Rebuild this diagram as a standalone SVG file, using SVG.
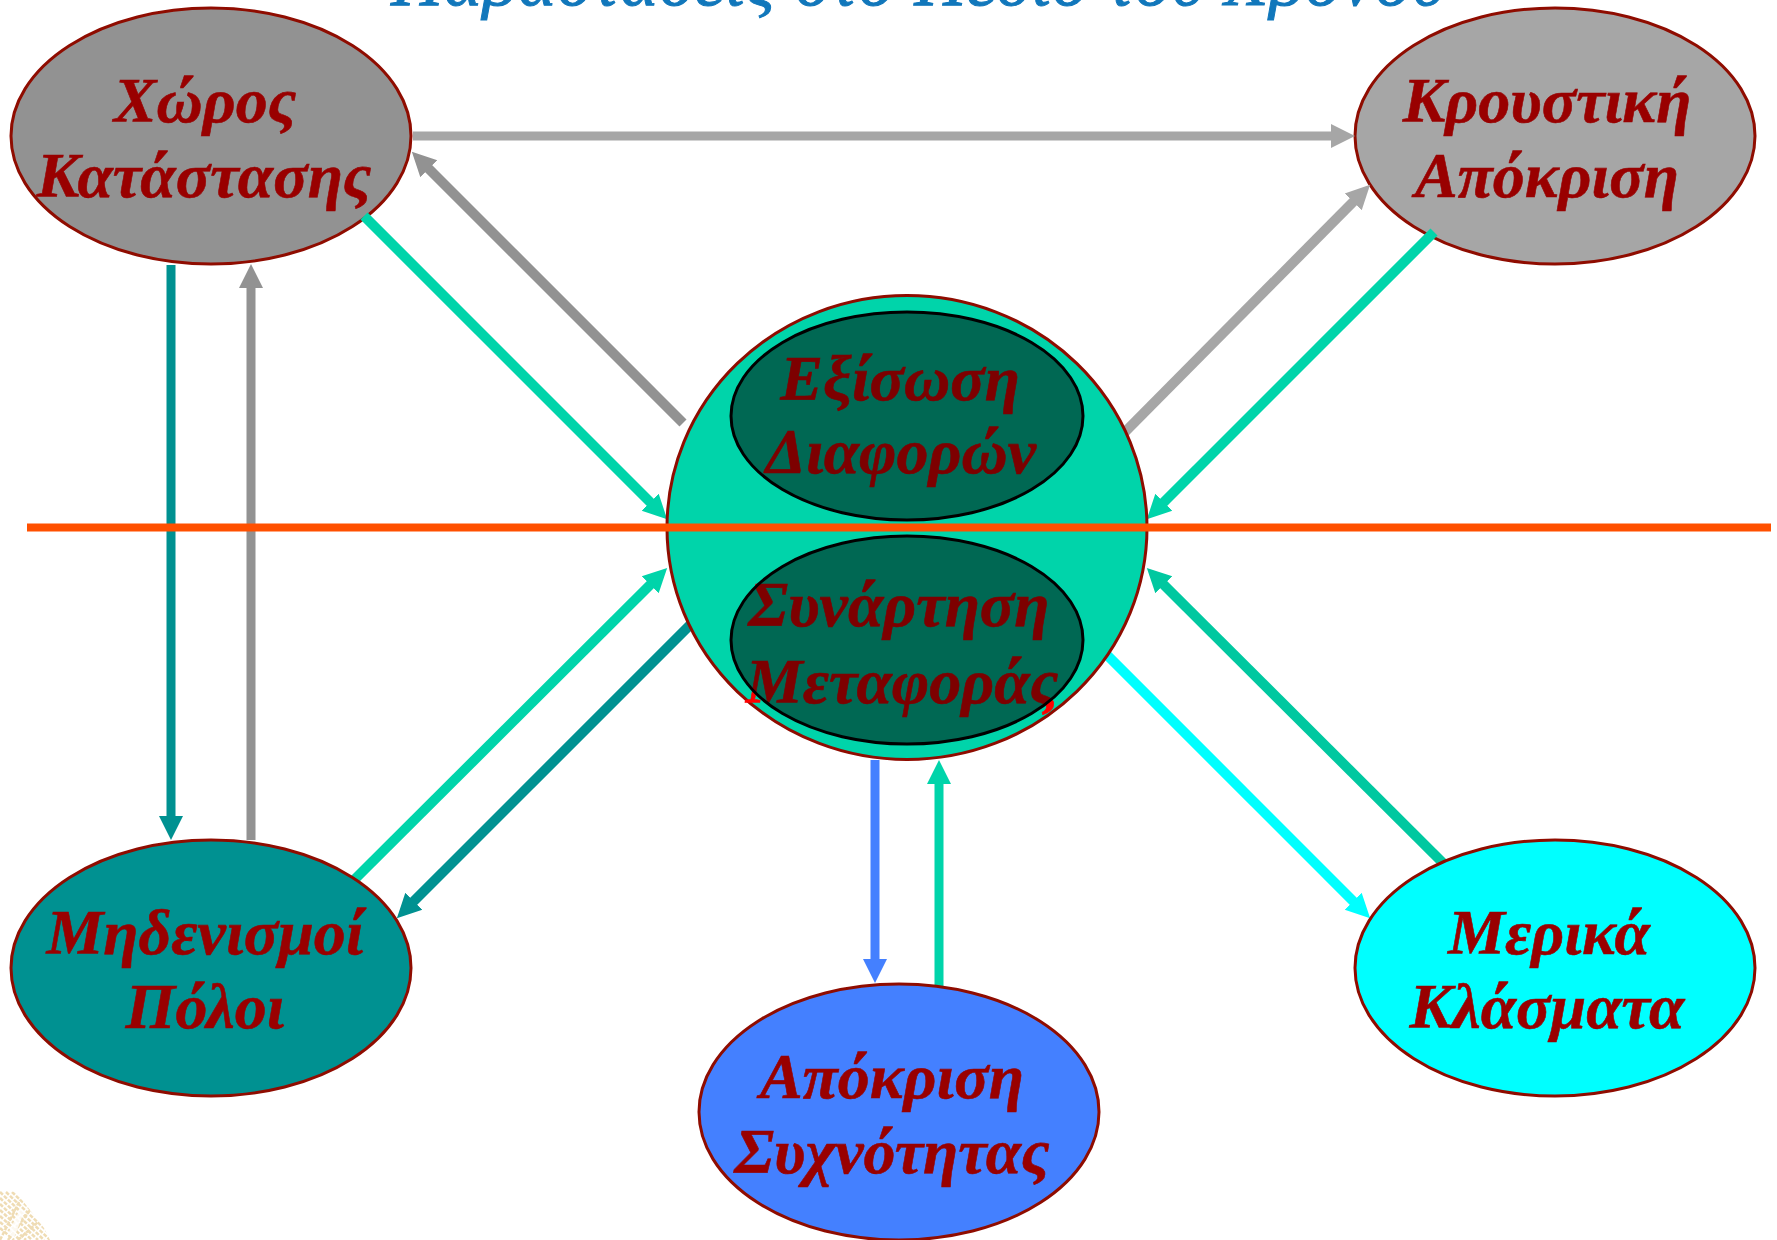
<svg xmlns="http://www.w3.org/2000/svg" width="1777" height="1240" viewBox="0 0 1777 1240">
<style>
.n{stroke:#8f0c00;stroke-width:3}
.t{font-family:"Liberation Serif","Times New Roman",serif;font-weight:bold;font-style:italic;font-size:64px;text-anchor:middle;stroke-width:.6}
.r{fill:#990000;stroke:#990000}
.b{fill:#ff0000;stroke:#ff0000}
.c{fill:none;stroke-width:9}
.d{fill:none;stroke-width:10}
.title{font-family:"Liberation Serif","Times New Roman",serif;font-style:italic;font-size:72px;fill:#1177bb;stroke:#1177bb;stroke-width:1;text-anchor:middle}
.i{fill:#000;fill-opacity:.51;stroke:#000;stroke-width:3}
.lg{fill:none;stroke:#efdcb4;stroke-width:2.5;stroke-dasharray:4 1.5}
</style>
<defs>
<marker id="a1" markerUnits="userSpaceOnUse" markerWidth="26" markerHeight="26" viewBox="0 -13 26 26" refX="4" refY="0" orient="auto"><path d="M0-12L24 0L0 12z" fill="#a6a6a6"/></marker>
<marker id="a2" markerUnits="userSpaceOnUse" markerWidth="26" markerHeight="26" viewBox="0 -13 26 26" refX="4" refY="0" orient="auto"><path d="M0-12L24 0L0 12z" fill="#929292"/></marker>
<marker id="a3" markerUnits="userSpaceOnUse" markerWidth="26" markerHeight="26" viewBox="0 -13 26 26" refX="4" refY="0" orient="auto"><path d="M0-12L24 0L0 12z" fill="#00d4aa"/></marker>
<marker id="a4" markerUnits="userSpaceOnUse" markerWidth="26" markerHeight="26" viewBox="0 -13 26 26" refX="4" refY="0" orient="auto"><path d="M0-12L24 0L0 12z" fill="#009191"/></marker>
<marker id="a5" markerUnits="userSpaceOnUse" markerWidth="26" markerHeight="26" viewBox="0 -13 26 26" refX="4" refY="0" orient="auto"><path d="M0-12L24 0L0 12z" fill="#00ffff"/></marker>
<marker id="a6" markerUnits="userSpaceOnUse" markerWidth="26" markerHeight="26" viewBox="0 -13 26 26" refX="4" refY="0" orient="auto"><path d="M0-12L24 0L0 12z" fill="#4480ff"/></marker>
<marker id="a7" markerUnits="userSpaceOnUse" markerWidth="26" markerHeight="26" viewBox="0 -13 26 26" refX="4" refY="0" orient="auto"><path d="M0-12L24 0L0 12z" fill="#00c8a0"/></marker>
<clipPath id="lc"><path d="M0 1190L16 1192L30 1210L44 1228L50 1240H0z"/></clipPath>
</defs>
<text class="title" x="918" y="5" textLength="1054" lengthAdjust="spacing">Παραστάσεις στο Πεδίο του Χρόνου</text>
<g id="logo" clip-path="url(#lc)">
<path class="lg" d="M0 1192L50 1240M0 1198L44 1240M0 1204L38 1240M0 1210L32 1240M0 1216L26 1240M0 1222L20 1240M0 1228L14 1240M6 1192L50 1234M12 1192L50 1228"/>
<path class="lg" d="M0 1240L20 1200M8 1240L30 1210M18 1240L38 1222"/>
<path d="M20 1209L24 1212L14 1238L8 1234z" fill="#ffffff" opacity=".8"/>
</g>
<g id="node-state"><ellipse class="n" cx="211" cy="136" rx="200" ry="128" fill="#929292"/><text class="t r" x="205" y="122">Χώρος</text><text class="t r" x="204" y="197">Κατάστασης</text></g>
<g id="node-impulse"><ellipse class="n" cx="1555" cy="136" rx="200" ry="128" fill="#a6a6a6"/><text class="t r" x="1547" y="122">Κρουστική</text><text class="t r" x="1547" y="197">Απόκριση</text></g>
<g id="connectors">
<path class="c" stroke="#a6a6a6" marker-end="url(#a1)" d="M413 136H1335"/>
<path class="d" stroke="#929292" marker-end="url(#a2)" d="M683 423L426 166"/>
<path class="d" stroke="#00d4aa" marker-end="url(#a3)" d="M364 216L653 505"/>
<path class="d" stroke="#a6a6a6" marker-end="url(#a1)" d="M1120 437L1356 199"/>
<path class="d" stroke="#00d4aa" marker-end="url(#a3)" d="M1434 232L1161 505"/>
<path class="c" stroke="#009191" marker-end="url(#a4)" d="M171 265V820"/>
<path class="c" stroke="#929292" marker-end="url(#a2)" d="M251 840V284"/>
<path class="d" stroke="#00d4aa" marker-end="url(#a3)" d="M350 884L653 582"/>
<path class="d" stroke="#009191" marker-end="url(#a4)" d="M694 621L411 904"/>
<path class="d" stroke="#00ffff" marker-end="url(#a5)" d="M1100 648L1356 904"/>
<path class="d" stroke="#00c8a0" marker-end="url(#a7)" d="M1449 869L1161 582"/>
<path class="c" stroke="#4480ff" marker-end="url(#a6)" d="M875 760V963"/>
<path class="c" stroke="#00d4aa" marker-end="url(#a3)" d="M939 986V780"/>
</g>
<g id="node-zeros"><ellipse class="n" cx="211" cy="968" rx="200" ry="128" fill="#009191"/><text class="t r" x="205" y="954">Μηδενισμοί</text><text class="t r" x="205" y="1028">Πόλοι</text></g>
<g id="node-fractions"><ellipse class="n" cx="1555" cy="968" rx="200" ry="128" fill="#00ffff"/><text class="t r" x="1549" y="954">Μερικά</text><text class="t r" x="1547" y="1028">Κλάσματα</text></g>
<g id="node-frequency"><ellipse class="n" cx="899" cy="1112" rx="200" ry="128" fill="#4480ff"/><text class="t r" x="892" y="1098">Απόκριση</text><text class="t r" x="892" y="1173">Συχνότητας</text></g>
<g id="node-center">
<ellipse class="n" cx="907" cy="527.5" rx="240" ry="232" fill="#00d4aa"/>
<g id="node-difference"><text class="t b" x="900" y="400">Εξίσωση</text><text class="t b" x="901" y="473">Διαφορών</text><ellipse class="i" cx="907" cy="416" rx="176" ry="104"/></g>
<g id="node-transfer"><text class="t b" x="899" y="626">Συνάρτηση</text><text class="t b" x="902" y="703">Μεταφοράς</text><ellipse class="i" cx="907" cy="640" rx="176" ry="104"/></g>
</g>
<path id="divider" d="M27 527.5H1771" stroke="#ff5000" stroke-width="8" fill="none"/>
</svg>
